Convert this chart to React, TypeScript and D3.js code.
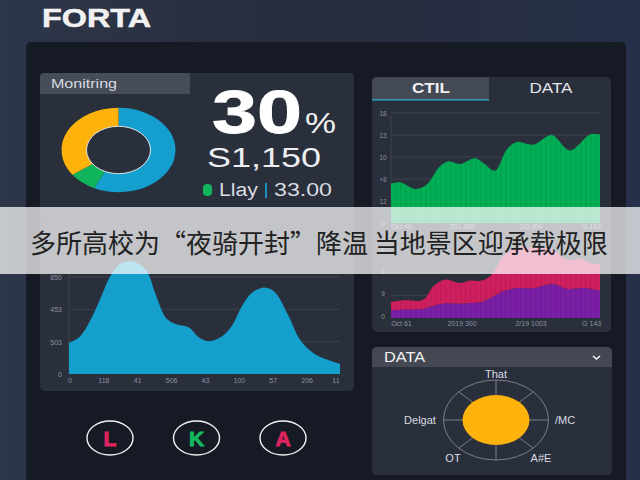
import * as d3 from 'd3'

const SANS = '"Liberation Sans", Arial, sans-serif'

// donut, clockwise from 12 o'clock
const donutValues = [57, 8, 35]
const donutColors = ['#159fcf', '#10b45c', '#fdb20c']

// bottom-left area
const waveX = [0, 0.33, 0.63, 0.93, 1.23, 1.53, 1.92, 2.28, 2.57, 2.87, 3.17, 3.53, 3.83, 4.13, 4.52, 4.82, 5.12, 5.42, 5.78, 6.08, 6.47, 6.83, 7.22, 7.66, 8]
const waveY = [191, 234, 332, 468, 609, 683, 695, 640, 486, 345, 308, 289, 228, 203, 234, 302, 425, 505, 535, 505, 363, 209, 129, 86, 62]
const waveXLabels = ['0', '116', '41', '506', '43', '100', '57', '206', '11']
const waveYTicks = [0, 200, 400, 600]
const waveYLabels = ['0', '503', '453', '850']

// top-right area
const greenX = [0, 4.3, 11.5, 17, 23.4, 27.4, 33, 40.2, 44.2, 49.8, 55.3, 60.1, 68.1, 76.9, 85.6, 95.2, 100]
const greenY = [1.79, 1.85, 1.55, 1.74, 2.58, 2.8, 2.68, 2.94, 2.73, 2.38, 3.33, 3.68, 3.56, 4.0, 3.3, 4.02, 4.02]
const greenYLabels = ['0', '12', '+8', '10', '13', '18']
const greenXTicks = [5, 34, 67, 96]
const greenXLabels = ['Oct 48', '201 306', '2/0 J04', 'G 162']

// lower-right stacked area
const stackX = [0, 5.9, 15.5, 20.3, 25.8, 33, 37.8, 43.4, 48.2, 53.7, 60.1, 68.1, 77.7, 84, 91.2, 96, 100]
const purple = [0.34, 0.37, 0.41, 0.54, 0.65, 0.63, 0.66, 0.71, 0.91, 1.18, 1.32, 1.32, 1.5, 1.29, 1.32, 1.28, 1.21]
const crimson = [0.37, 0.41, 0.4, 0.86, 1.04, 0.91, 0.99, 0.94, 1.0, 1.54, 1.77, 1.77, 1.51, 1.28, 1.28, 1.12, 1.14]
const stackYLabels = ['0', '9', '6', '8']
const stackXLabels = ['Oct 61', '2019 300', '2/19 1003', 'G 143']

// radial dial
const dialAngles = [0, 45, 90, 135, 180, 225, 270, 315]
const buttons = [
  { letter: 'L', color: '#e0245f' },
  { letter: 'K', color: '#12b95f' },
  { letter: 'A', color: '#e0245f' },
]

const TICK = '#8b90a0'

export default function App() {
  // donut
  const pie = d3.pie<number>().sort(null)(donutValues)
  const arc = d3.arc<d3.PieArcDatum<number>>().innerRadius(32).outerRadius(57)

  // wave
  const wx = d3.scaleLinear().domain([0, 8]).range([69, 340])
  const wy = d3.scaleLinear().domain([0, 600]).range([374, 277])
  const wavePoints = waveX.map((x, i) => [x, waveY[i]] as [number, number])
  const wavePath = d3
    .area<[number, number]>()
    .x((d) => wx(d[0]))
    .y0(wy(0))
    .y1((d) => wy(d[1]))
    .curve(d3.curveCatmullRom.alpha(0.5))(wavePoints)

  // green
  const gx = d3.scaleLinear().domain([0, 100]).range([391, 600])
  const gy = d3.scaleLinear().domain([0, 5]).range([223, 113])
  const greenPoints = greenX.map((x, i) => [x, greenY[i]] as [number, number])
  const greenPath = d3
    .area<[number, number]>()
    .x((d) => gx(d[0]))
    .y0(gy(0))
    .y1((d) => gy(d[1]))
    .curve(d3.curveCatmullRom.alpha(0.5))(greenPoints)

  // stacked
  const sy = d3.scaleLinear().domain([0, 3]).range([318, 250])
  const rows = stackX.map((x, i) => ({ x, purple: purple[i], crimson: crimson[i] }))
  const layers = d3.stack<{ x: number; purple: number; crimson: number }>().keys(['purple', 'crimson'])(rows)
  const stackArea = d3
    .area<d3.SeriesPoint<{ x: number; purple: number; crimson: number }>>()
    .x((d) => gx(d.data.x))
    .y0((d) => sy(d[0]))
    .y1((d) => sy(d[1]))
    .curve(d3.curveCatmullRom.alpha(0.5))
  const stackColors = ['#7a1fa6', '#cf1f5f']

  const dialX = 496
  const dialY = 420
  const buttonX = d3.scaleLinear().domain([0, 2]).range([110, 283])

  return (
    <svg
      width={640}
      height={480}
      viewBox="0 0 640 480"
      style={{ position: 'fixed', left: 0, top: 0, fontFamily: SANS }}
    >
      <defs>
        <linearGradient id="bg" x1="0" x2="1" y1="0" y2="0">
          <stop offset="0" stopColor="#2d3649" />
          <stop offset="0.5" stopColor="#262c3b" />
          <stop offset="1" stopColor="#27304a" />
        </linearGradient>
        <pattern id="stripes" width="5" height="10" patternUnits="userSpaceOnUse">
          <rect width="1.5" height="10" fill="#000" opacity={0.07} />
        </pattern>
      </defs>
      <rect width={640} height={480} fill="url(#bg)" />
      <text x={42} y={27} fontSize={25} fontWeight={700} fill="#f1f1f1" stroke="#f1f1f1" strokeWidth={0.5} textLength={109} lengthAdjust="spacingAndGlyphs">
        FORTA
      </text>

      <rect x={26} y={42} width={600} height={450} rx={5} fill="#161a25" />

      {/* top-left card */}
      <rect x={40} y={73} width={314} height={150} rx={4} fill="#2a2f3c" />
      <path d="M190 73H44a4 4 0 0 0-4 4V94H190Z" fill="#474c59" />
      <text x={51} y={88} fontSize={13} fill="#d8dae0" textLength={66} lengthAdjust="spacingAndGlyphs">
        Monitring
      </text>
      <g transform="translate(118.5,150) scale(1,0.74)">
        {pie.map((p, i) => (
          <path key={i} d={arc(p) ?? ''} fill={donutColors[i]} />
        ))}
        <circle r={32} fill="#2a2f3c" stroke="#fff" strokeWidth={1} />
      </g>
      <text x={212} y={133} fontSize={61} fontWeight={700} fill="#fff" stroke="#fff" strokeWidth={0.8} textLength={90} lengthAdjust="spacingAndGlyphs">
        30
      </text>
      <text x={305} y={133} fontSize={29} fill="#f0f0f0" textLength={31} lengthAdjust="spacingAndGlyphs">
        %
      </text>
      <text x={207} y={167} fontSize={28} fill="#eceef2" textLength={114} lengthAdjust="spacingAndGlyphs">
        S1,150
      </text>
      <rect x={203} y={184} width={9} height={12} rx={4} fill="#10b45c" />
      <text x={219} y={196} fontSize={18} fill="#d9dce2" textLength={39} lengthAdjust="spacingAndGlyphs">
        Llay
      </text>
      <rect x={265} y={183} width={2} height={15} fill="#1c8fbd" />
      <text x={274} y={196} fontSize={18} fill="#d9dce2" textLength={58} lengthAdjust="spacingAndGlyphs">
        33.00
      </text>

      {/* bottom-left card */}
      <rect x={40} y={223} width={314} height={168} rx={5} fill="#2a2f3c" />
      {waveYTicks.map((t, i) => (
        <g key={t}>
          {i > 0 && <line x1={69} x2={340} y1={wy(t)} y2={wy(t)} stroke="#454a58" strokeWidth={0.7} />}
          <text x={62} y={wy(t) + 3} textAnchor="end" fontSize={7} fill={TICK}>
            {waveYLabels[i]}
          </text>
        </g>
      ))}
      <line x1={69} x2={69} y1={250} y2={374} stroke="#454a58" strokeWidth={0.7} />
      <path d={wavePath ?? ''} fill="#149fcd" />
      {waveXLabels.map((label, i) => (
        <text key={i} x={wx(i) + (i === 8 ? -4 : 1)} y={383} textAnchor="middle" fontSize={7} fill={TICK}>
          {label}
        </text>
      ))}

      {buttons.map((b, i) => (
        <g key={b.letter} transform={`translate(${buttonX(i)},438)`}>
          <ellipse rx={23} ry={17} fill="#161a25" stroke="#f2f2f2" strokeWidth={1.4} />
          <text y={7.500} textAnchor="middle" fontSize={21} fontWeight={700} fill={b.color} stroke={b.color} strokeWidth={0.9}>
            {b.letter}
          </text>
        </g>
      ))}

      {/* right chart card */}
      <rect x={372} y={77} width={239} height={255} rx={5} fill="#2a2f3c" />
      <path d="M489 77H377a5 5 0 0 0-5 5V100H489Z" fill="#434955" />
      <rect x={372} y={99} width={117} height={1.5} fill="#2f9ac4" />
      <text x={431} y={93} textAnchor="middle" fontSize={14} fontWeight={700} fill="#f0f0f0" textLength={38} lengthAdjust="spacingAndGlyphs">
        CTIL
      </text>
      <text x={551} y={93} textAnchor="middle" fontSize={14} fill="#e4e6ea" textLength={43} lengthAdjust="spacingAndGlyphs">
        DATA
      </text>
      <line x1={391} x2={391} y1={115} y2={223} stroke="#454a58" strokeWidth={0.7} />
      {greenYLabels.map((label, i) => (
        <g key={i}>
          {i > 0 && <line x1={391} x2={600} y1={gy(i)} y2={gy(i)} stroke="#454a58" strokeWidth={0.7} />}
          <text x={383} y={gy(i) + 2.5} textAnchor="middle" fontSize={6.5} fill={TICK}>
            {label}
          </text>
        </g>
      ))}
      <path d={greenPath ?? ''} fill="#00ae55" />
      <path d={greenPath ?? ''} fill="url(#stripes)" />
      {greenXTicks.map((t, i) => (
        <text key={t} x={gx(t)} y={229} textAnchor="middle" fontSize={7} fill={TICK}>
          {greenXLabels[i]}
        </text>
      ))}

      {stackYLabels.map((label, i) => (
        <g key={i}>
          {i > 0 && <line x1={391} x2={600} y1={sy(i)} y2={sy(i)} stroke="#454a58" strokeWidth={0.7} />}
          <text x={383} y={sy(i) + 1} textAnchor="middle" fontSize={6.5} fill={TICK}>
            {label}
          </text>
        </g>
      ))}
      {layers.map((layer, i) => (
        <g key={layer.key}>
          <path d={stackArea(layer) ?? ''} fill={stackColors[i]} />
          <path d={stackArea(layer) ?? ''} fill="url(#stripes)" />
        </g>
      ))}
      {greenXTicks.map((t, i) => (
        <text key={t} x={gx(t)} y={326} textAnchor="middle" fontSize={7} fill={TICK}>
          {stackXLabels[i]}
        </text>
      ))}

      {/* dial card */}
      <rect x={372} y={347} width={240} height={128} rx={5} fill="#2a2f3c" />
      <path d="M372 367V352a5 5 0 0 1 5-5H607a5 5 0 0 1 5 5V367Z" fill="#434853" />
      <text x={384} y={362} fontSize={14.5} fill="#f2f2f2" textLength={41} lengthAdjust="spacingAndGlyphs">
        DATA
      </text>
      <path d="M593 356L596.500 359L600 356" fill="none" stroke="#f2f2f2" strokeWidth={1.6} />
      <ellipse cx={dialX} cy={dialY} rx={52.5} ry={40} fill="none" stroke="#7b7f8b" strokeWidth={1} />
      {dialAngles.map((a) => {
        const t = (a * Math.PI) / 180
        return (
          <line
            key={a}
            x1={dialX + 33 * Math.sin(t)}
            y1={dialY - 25 * Math.cos(t)}
            x2={dialX + 52.5 * Math.sin(t)}
            y2={dialY - 40 * Math.cos(t)}
            stroke="#7b7f8b"
            strokeWidth={1}
          />
        )
      })}
      <ellipse cx={dialX} cy={dialY} rx={33.5} ry={25} fill="#fdb20c" />
      <g fontSize={11} fill="#d9dce2" textAnchor="middle">
        <text x={496} y={378}>That</text>
        <text x={420} y={424}>Delgat</text>
        <text x={565} y={424}>/MC</text>
        <text x={453} y={462}>OT</text>
        <text x={541} y={462}>A#E</text>
      </g>

      {/* caption band */}
      <rect x={0} y={207} width={640} height={67} fill="#fff" opacity={0.72} />
      <text x={30} y={253} fontSize={26} fill="#222" style={{ fontFamily: '"Noto Sans CJK SC"' }}>
        多所高校为“夜骑开封”降温 当地景区迎承载极限
      </text>
    </svg>
  )
}
